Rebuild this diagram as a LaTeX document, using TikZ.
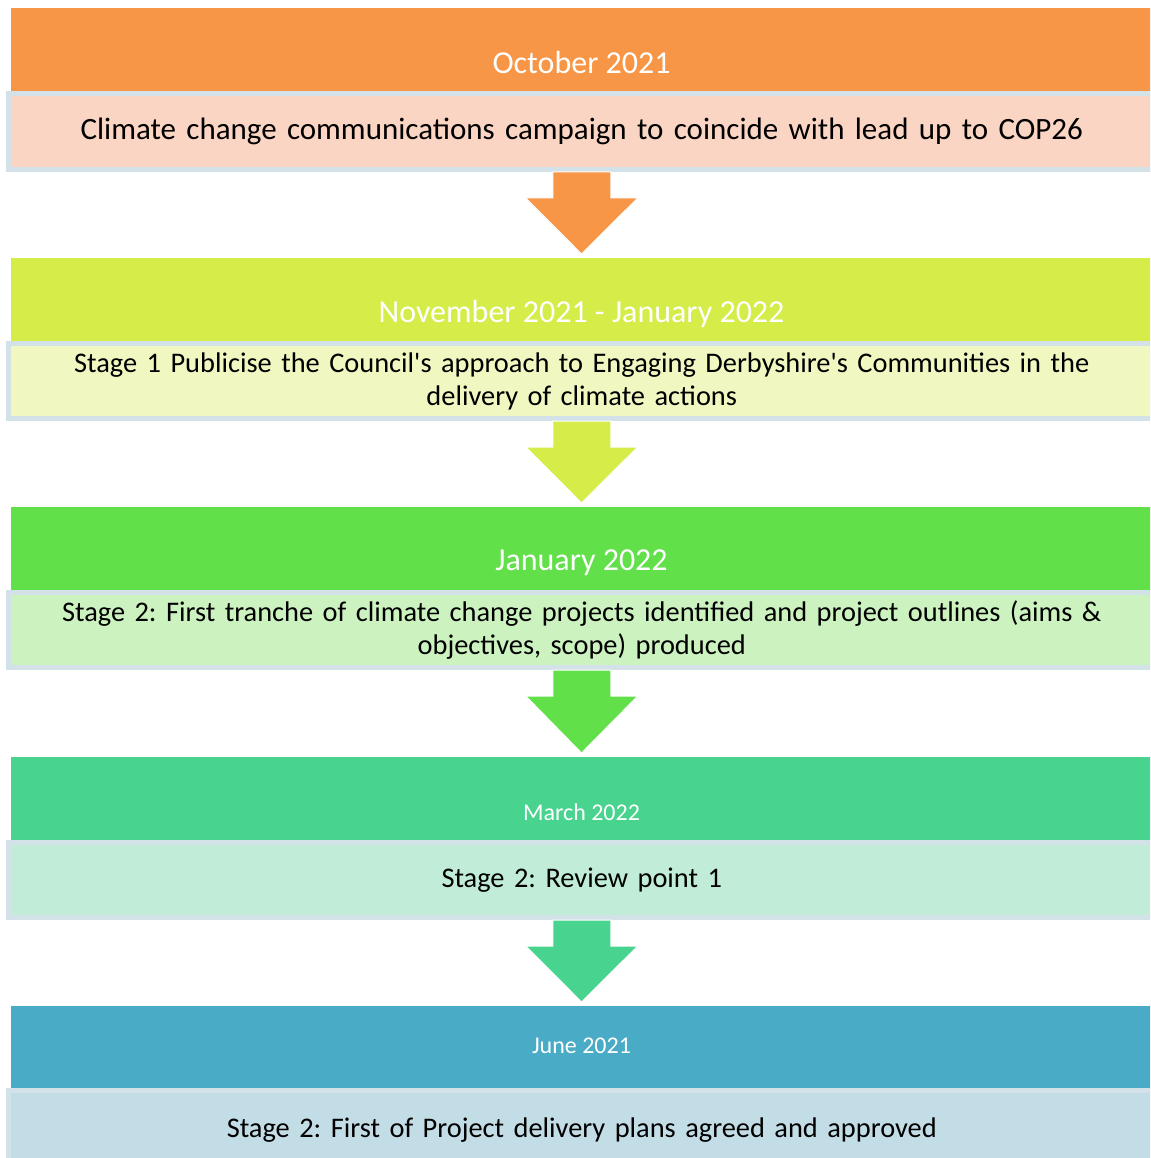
\documentclass[tikz,border=0pt]{standalone}
\usepackage{fontspec}
\setmainfont{Carlito}[Ligatures=TeXOff]
\usetikzlibrary{calc}
\definecolor{bordercol}{HTML}{D3E2E8}
\definecolor{c1}{HTML}{F79646}\definecolor{l1}{HTML}{FBD5C3}
\definecolor{c2}{HTML}{D6EC48}\definecolor{l2}{HTML}{F0F7C1}
\definecolor{c3}{HTML}{62E04A}\definecolor{l3}{HTML}{CCF2C0}
\definecolor{c4}{HTML}{48D48F}\definecolor{l4}{HTML}{C1EDD8}
\definecolor{c5}{HTML}{4AABC6}\definecolor{l5}{HTML}{C3DDE6}
\newcommand{\fsz}[1]{\fontsize{#1}{33}\selectfont\frenchspacing}
\begin{document}
\begin{tikzpicture}[x=1pt,y=-1pt,
  hdr/.style={fill=#1, draw=none, minimum width=1141pt, minimum height=83pt, anchor=north west, inner sep=0pt, outer sep=0pt},
  sub/.style={fill=#1, draw=bordercol, line width=5pt, minimum width=1146.5pt, minimum height=75pt, anchor=north west, inner sep=0pt, outer sep=0pt, text width=1140pt, align=center, text=black},
  htext/.style={text=white, inner sep=0pt, anchor=center},
  arr/.style={fill=#1, draw=white, line width=1pt}]
\useasboundingbox (0,0) rectangle (1150,1158);
\clip (0,0) rectangle (1150,1158);
% headers
\node[hdr=c1] (h1) at (11,8) {};
\node[hdr=c2] (h2) at (11,258) {};
\node[hdr=c3] (h3) at (11,507) {};
\node[hdr=c4] (h4) at (11,757) {};
\node[hdr=c5] (h5) at (11,1006) {};
\node[htext, font=\fsz{32}] (t1) at (581.5,63) {October 2021};
\node[htext, font=\fsz{32}] (t2) at (581.5,314) {November 2021 - January 2022};
\node[htext, font=\fsz{32}] (t3) at (581.5,563) {January 2022};
\node[htext, font=\fsz{24}] (t4) at (581.5,812) {March 2022};
\node[htext, font=\fsz{24}] (t5) at (581.5,1046) {June 2021};
% sub boxes
\node[sub=l1, font=\fsz{31}, minimum height=76pt] (s1) at (8.5,93.5) {Climate change communications campaign to coincide with lead up to COP26};
\node[sub=l2, font=\fsz{28.4}] (s2) at (8.5,343.5) {Stage 1 Publicise the Council's approach to Engaging Derbyshire's Communities in the\\ delivery of climate actions};
\node[sub=l3, font=\fsz{28.4}] (s3) at (8.5,592.5) {Stage 2: First tranche of climate change projects identified and project outlines (aims \&\\ objectives, scope) produced};
\node[sub=l4, font=\fsz{28.4}] (s4) at (8.5,842.5) {Stage 2: Review point 1};
\node[sub=l5, font=\fsz{28.4}, minimum height=80pt] (s5) at (8.5,1090.5) {Stage 2: First of Project delivery plans agreed and approved};
% arrows
\foreach \a/\b/\c in {s1/h2/c1, s2/h3/c2, s3/h4/c3, s4/h5/c4}{
  \draw[arr=\c] ($(\a.south)+(-29,2.5)$) -- ++(0,26) -- ++(-27,0)
    -- ($(\b.north)+(0,-4)$) -- ($(\a.south)+(56,28.5)$) -- ++(-27,0) -- ++(0,-26) -- cycle;
}
\end{tikzpicture}
\end{document}
